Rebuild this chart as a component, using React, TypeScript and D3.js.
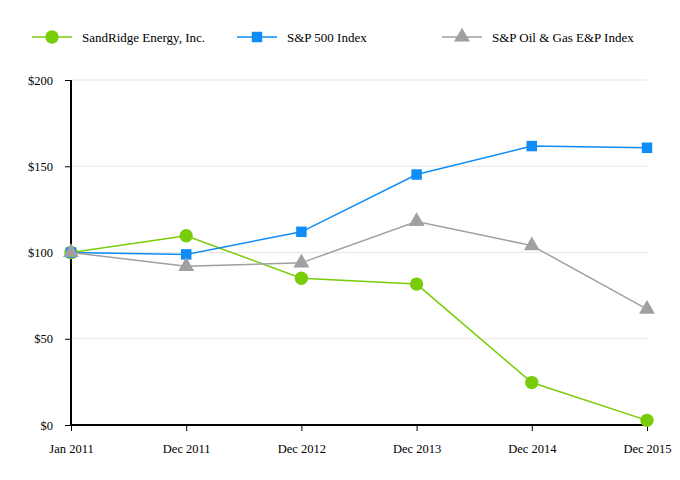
import { useEffect, useRef } from "react";
import * as d3 from "d3";

const categories = ["Jan 2011", "Dec 2011", "Dec 2012", "Dec 2013", "Dec 2014", "Dec 2015"];
const sandridge = [100, 109.7, 85.1, 81.7, 24.6, 2.7];
const sp500 = [100, 98.9, 112.0, 145.2, 161.7, 160.7];
const oilGas = [100, 92.0, 94.0, 118.0, 104.0, 67.2];
const yTicks = [0, 50, 100, 150, 200];

const series = [
  { name: "SandRidge Energy, Inc.", values: sandridge, color: "#79cc0a", symbol: d3.symbolCircle, size: 140 },
  { name: "S&P 500 Index", values: sp500, color: "#0f8cf5", symbol: d3.symbolSquare, size: 110 },
  { name: "S&P Oil & Gas E&P Index", values: oilGas, color: "#a0a0a0", symbol: d3.symbolTriangle, size: 110 },
];

export default function App() {
  const svgRef = useRef<SVGSVGElement>(null);

  useEffect(() => {
    if (!svgRef.current) return;
    const svg = d3.select(svgRef.current);
    svg.selectAll("*").remove();

    const margin = { top: 80, right: 33, bottom: 55, left: 71 };
    const width = 680 - margin.left - margin.right;
    const height = 480 - margin.top - margin.bottom;
    const font = "'Liberation Serif', 'Times New Roman', serif";

    const x = d3.scalePoint<string>().domain(categories).range([0, width]);
    const y = d3.scaleLinear().domain([0, 200]).range([height, 0]);

    const g = svg.append("g").attr("transform", `translate(${margin.left},${margin.top})`);

    // grid
    g.selectAll("line.grid")
      .data(yTicks.filter((t) => t > 0))
      .enter()
      .append("line")
      .attr("x1", 0)
      .attr("x2", width)
      .attr("y1", (d) => y(d))
      .attr("y2", (d) => y(d))
      .attr("stroke", "#e6e6e6")
      .attr("stroke-width", 1.2);

    // y axis
    const yAxis = g.append("g").call(
      d3.axisLeft(y).tickValues(yTicks).tickSize(6).tickFormat((d) => `$${d}`)
    );
    yAxis.select(".domain").attr("stroke", "#000").attr("stroke-width", 2).attr("d", `M0,${height}V0`);
    yAxis.selectAll(".tick line").attr("stroke", "#000");
    yAxis.selectAll("text")
      .attr("font-family", font)
      .attr("font-size", 12.5)
      .attr("fill", "#000")
      .attr("x", -18);

    // x axis
    const xAxis = g.append("g").attr("transform", `translate(0,${height})`).call(
      d3.axisBottom(x).tickSize(6)
    );
    xAxis.select(".domain").attr("stroke", "#000").attr("stroke-width", 2).attr("d", `M0,0H${width}`);
    xAxis.selectAll(".tick line").attr("stroke", "#000");
    xAxis.selectAll("text")
      .attr("font-family", font)
      .attr("font-size", 12.5)
      .attr("fill", "#000")
      .attr("y", 19);

    const line = d3
      .line<number>()
      .x((_, i) => x(categories[i]) as number)
      .y((d) => y(d));

    series.forEach((s) => {
      g.append("path")
        .datum(s.values)
        .attr("d", line)
        .attr("fill", "none")
        .attr("stroke", s.color)
        .attr("stroke-width", 1.5);
      g.selectAll(null)
        .data(s.values)
        .enter()
        .append("path")
        .attr("d", d3.symbol().type(s.symbol).size(s.size)())
        .attr("transform", (d, i) => `translate(${x(categories[i])},${y(d)})`)
        .attr("fill", s.color);
    });

    // legend
    const legendX = [32, 237, 442];
    const legend = svg.append("g").attr("transform", "translate(0,37)");
    series.forEach((s, i) => {
      const lg = legend.append("g").attr("transform", `translate(${legendX[i]},0)`);
      lg.append("line").attr("x1", 0).attr("x2", 40).attr("y1", 0).attr("y2", 0)
        .attr("stroke", s.color).attr("stroke-width", 1.5);
      lg.append("path")
        .attr("d", d3.symbol().type(s.symbol).size(s.size)())
        .attr("transform", "translate(20,0)")
        .attr("fill", s.color);
      lg.append("text")
        .attr("x", 50)
        .attr("y", 0)
        .attr("dy", "0.35em")
        .attr("font-family", font)
        .attr("font-size", 13)
        .attr("fill", "#000")
        .text(s.name);
    });
  }, []);

  return (
    <svg
      ref={svgRef}
      width={680}
      height={480}
      style={{ position: "absolute", left: 0, top: 0, background: "#fff" }}
    />
  );
}
